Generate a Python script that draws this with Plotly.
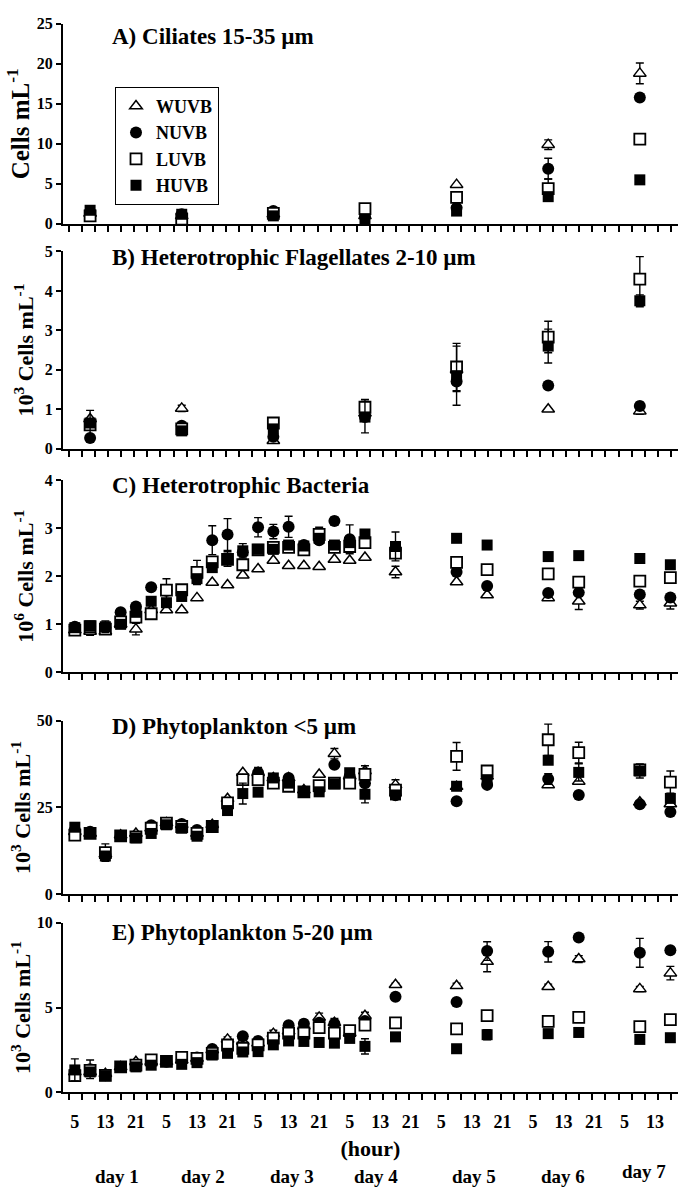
import plotly.graph_objects as go

W, H = 681, 1192
FONT = "Liberation Serif"

# ---------------- data ----------------
# sampling times, hours since 00:00 of day 1
t_daily = [9, 33, 57, 81, 105, 129, 153]
t_full = [5, 9, 13, 17, 21, 25, 29, 33, 37, 41, 45, 49, 53, 57, 61, 65, 69, 73, 77, 81,
          89, 105, 113, 129, 137, 153, 161]

hour_ticks = [5, 13, 21, 29, 37, 45, 53, 61, 69, 77, 85, 93, 101, 109, 117, 125, 133, 141, 149, 157]
hour_labels = ["5", "13", "21"] * 6 + ["5", "13"]
day_labels = ["day 1", "day 2", "day 3", "day 4", "day 5", "day 6", "day 7"]
day_centers = [16, 38.5, 62, 84, 109.5, 133, 154]

series = ["WUVB", "NUVB", "LUVB", "HUVB"]

# A) Ciliates (cells/mL)
A_W = [1.3, 1.0, 1.2, 1.0, 4.9, 9.9, 18.8]
A_N = [1.5, 1.2, 1.6, 0.9, 2.0, 6.9, 15.8]
A_L = [1.0, 0.6, 1.3, 1.9, 3.3, 4.4, 10.6]
A_H = [1.7, 1.2, 1.0, 0.6, 1.6, 3.4, 5.5]
A_W_err = [0, 0, 0, 0, 0, 0.6, 1.3]
A_N_err = [0, 0, 0, 0, 0, 1.3, 0]
A_L_err = [0, 0, 0, 0, 0, 1.2, 0]
A_H_err = [0, 0, 0, 0, 0, 0, 0]

# B) Heterotrophic flagellates (10^3 cells/mL)
B_W = [0.75, 1.02, 0.2, 0.9, 2.0, 1.0, 0.95]
B_N = [0.27, 0.58, 0.3, 0.8, 1.7, 1.6, 1.08]
B_L = [0.6, 0.5, 0.65, 1.05, 2.07, 2.83, 4.3]
B_H = [0.65, 0.45, 0.5, 0.8, 1.85, 2.6, 3.75]
B_W_err = [0, 0.08, 0, 0, 0, 0, 0.08]
B_N_err = [0, 0, 0, 0, 0.25, 0, 0.1]
B_L_err = [0, 0, 0.05, 0.2, 0.6, 0.4, 0.57]
B_H_err = [0.32, 0, 0, 0.4, 0.75, 0.43, 0.15]

# C) Heterotrophic bacteria (10^6 cells/mL)
C_W = [0.88, 0.85, 0.85, 1.0, 0.9, 1.3, 1.3, 1.3, 1.55, 1.87, 1.82, 2.02, 2.15, 2.33, 2.22,
       2.22, 2.2, 2.35, 2.33, 2.39, 2.09, 1.88, 1.61, 1.55, 1.48, 1.4, 1.44]
C_N = [0.95, 0.95, 0.93, 1.25, 1.37, 1.77, 1.7, 1.65, 2.0, 2.75, 2.87, 2.5, 3.02, 2.93, 3.03,
       2.65, 2.75, 3.15, 2.77, 2.75, 2.55, 2.09, 1.8, 1.65, 1.66, 1.62, 1.56]
C_L = [0.88, 0.95, 0.9, 1.05, 1.15, 1.22, 1.71, 1.72, 2.08, 2.3, 2.35, 2.24, 2.55, 2.6, 2.6,
       2.55, 2.87, 2.6, 2.62, 2.7, 2.48, 2.29, 2.14, 2.05, 1.88, 1.9, 1.97]
C_H = [0.93, 0.97, 0.95, 1.0, 1.25, 1.48, 1.45, 1.58, 1.95, 2.18, 2.36, 2.53, 2.56, 2.56, 2.65,
       2.63, 2.79, 2.65, 2.7, 2.88, 2.62, 2.79, 2.65, 2.41, 2.43, 2.37, 2.24]
C_W_err = [0, 0.08, 0, 0, 0.12, 0, 0, 0, 0, 0, 0, 0, 0, 0, 0,
           0, 0, 0, 0, 0, 0.12, 0, 0, 0, 0.17, 0.08, 0.12]
C_N_err = [0, 0, 0, 0, 0, 0, 0.25, 0, 0, 0.3, 0.33, 0, 0.2, 0.15, 0.22,
           0, 0, 0.08, 0.3, 0, 0, 0, 0, 0, 0, 0, 0]
C_L_err = [0, 0, 0, 0, 0, 0, 0, 0, 0.25, 0, 0, 0, 0, 0, 0,
           0, 0.15, 0, 0, 0, 0, 0, 0, 0, 0, 0, 0]
C_H_err = [0, 0, 0.12, 0, 0, 0, 0, 0, 0, 0, 0.15, 0.15, 0, 0, 0,
           0, 0, 0, 0, 0, 0.3, 0, 0, 0, 0, 0, 0]

# D) Phytoplankton <5 um (10^3 cells/mL)
D_W = [18, 17.5, 11.5, 17, 17.5, 19, 20.5, 20, 17.5, 20, 27.5, 35, 35, 33.5, 33.5,
       30, 34.5, 40.5, 34, 35.5, 31.5, 31, 34, 31.5, 32.5, 26.5, 26]
D_N = [18.5, 18, 11.5, 16.8, 16.5, 19.9, 20.2, 20.2, 18.5, 19.7, 26, 33, 35, 33, 33.5,
       29.5, 30, 37.3, 34, 32, 28.5, 26.8, 31.5, 33.2, 28.6, 25.9, 23.7]
D_L = [17, 17.5, 12, 16.8, 16.5, 19, 20.5, 19.5, 17.5, 19.5, 26.3, 33, 33, 32, 31.1,
       29.5, 31.3, 32, 32, 34.5, 30, 39.7, 35.5, 44.5, 40.8, 35.8, 32.3]
D_H = [19.3, 17.5, 11, 16.7, 16.2, 17.5, 20, 19, 16.7, 19.5, 24.1, 29, 29.4, 33.5, 32,
       29.4, 29.5, 31.8, 35, 28.8, 28.6, 31.1, 33, 38.6, 35.1, 35.5, 27.6]
D_W_err = [0, 0, 0, 0, 0, 0, 0, 0, 0, 0, 0, 0, 0, 0, 0,
           0, 0, 1.5, 0, 0, 1.5, 0, 0, 0, 0, 0, 0]
D_N_err = [0, 0, 0, 0, 0, 0, 0, 0, 0, 0, 0, 0, 1.5, 0, 0,
           0, 0, 0, 0, 0, 0, 0, 0, 1.5, 0, 0, 0]
D_L_err = [0, 0, 2.5, 0, 0, 0, 0, 0, 0, 0, 0, 0, 0, 0, 0,
           0, 0, 0, 0, 2.5, 0, 4.0, 0, 4.5, 3.0, 0, 3.2]
D_H_err = [0, 0, 0, 0, 0, 0, 0, 0, 0, 0, 0, 3.0, 0, 0, 0,
           0, 0, 0, 0, 2.5, 0, 0, 0, 0, 2.5, 2.0, 0]

# E) Phytoplankton 5-20 um (10^3 cells/mL)
E_W = [1.2, 1.2, 1.1, 1.5, 1.8, 1.8, 1.8, 1.9, 2.0, 2.5, 3.12, 3.0, 2.9, 3.46, 3.6,
       3.9, 4.42, 4.1, 3.5, 4.52, 6.34, 6.28, 7.71, 6.23, 7.86, 6.1, 7.03]
E_N = [1.2, 1.36, 1.0, 1.5, 1.6, 1.7, 1.8, 1.9, 2.05, 2.56, 2.7, 3.31, 3.03, 3.2, 3.96,
       4.05, 4.1, 4.05, 3.5, 4.2, 5.63, 5.32, 8.33, 8.29, 9.13, 8.23, 8.38]
E_L = [0.98, 1.3, 1.0, 1.5, 1.6, 1.91, 1.82, 2.06, 2.0, 2.3, 2.79, 2.6, 2.8, 3.2, 3.49,
       3.5, 3.81, 3.49, 3.64, 3.96, 4.09, 3.74, 4.52, 4.18, 4.42, 3.87, 4.29]
E_H = [1.32, 1.2, 0.98, 1.49, 1.5, 1.6, 1.82, 1.65, 1.75, 2.2, 2.3, 2.38, 2.4, 2.8, 3.03,
       3.0, 2.94, 2.9, 3.18, 2.71, 3.27, 2.57, 3.4, 3.46, 3.53, 3.12, 3.22]
E_W_err = [0, 0, 0, 0, 0, 0, 0, 0, 0, 0, 0.15, 0, 0, 0.2, 0,
           0, 0.25, 0, 0, 0.2, 0.1, 0.15, 0.6, 0.15, 0.2, 0.15, 0.4]
E_N_err = [0, 0.55, 0, 0, 0, 0, 0, 0, 0, 0, 0, 0, 0, 0, 0,
           0.2, 0, 0.3, 0, 0, 0, 0, 0.55, 0.6, 0, 0.85, 0]
E_L_err = [0, 0, 0, 0, 0, 0, 0, 0, 0, 0, 0, 0, 0, 0, 0,
           0, 0, 0, 0, 0, 0, 0, 0, 0, 0, 0, 0]
E_H_err = [0.65, 0, 0, 0, 0, 0, 0, 0, 0, 0, 0, 0, 0, 0, 0,
           0, 0, 0, 0, 0.45, 0, 0, 0.3, 0, 0, 0, 0]

panels = [
    dict(title="A) Ciliates 15-35 µm", t=t_daily, vals=[A_W, A_N, A_L, A_H],
         errs=[A_W_err, A_N_err, A_L_err, A_H_err], yrange=[0, 25], dtick=5,
         ytitle="Cells mL<sup>-1</sup>", top=16, bot=219, ttl=29, standoff=0, tsize=25),
    dict(title="B) Heterotrophic Flagellates 2-10 µm", t=t_daily, vals=[B_W, B_N, B_L, B_H],
         errs=[B_W_err, B_N_err, B_L_err, B_H_err], yrange=[0, 5], dtick=1,
         ytitle="10<sup>3</sup> Cells mL<sup>-1</sup>", top=247, bot=447, ttl=253, standoff=5, tsize=22),
    dict(title="C) Heterotrophic Bacteria", t=t_full, vals=[C_W, C_N, C_L, C_H],
         errs=[C_W_err, C_N_err, C_L_err, C_H_err], yrange=[0, 4], dtick=1,
         ytitle="10<sup>6</sup> Cells mL<sup>-1</sup>", top=479, bot=674, ttl=484, standoff=5, tsize=22),
    dict(title="D) Phytoplankton <5 µm", t=t_full, vals=[D_W, D_N, D_L, D_H],
         errs=[D_W_err, D_N_err, D_L_err, D_H_err], yrange=[0, 50], dtick=25,
         ytitle="10<sup>3</sup> Cells mL<sup>-1</sup>", top=723, bot=899, ttl=729, standoff=0, tsize=22),
    dict(title="E) Phytoplankton 5-20 µm", t=t_full, vals=[E_W, E_N, E_L, E_H],
         errs=[E_W_err, E_N_err, E_L_err, E_H_err], yrange=[0, 10], dtick=5,
         ytitle="10<sup>3</sup> Cells mL<sup>-1</sup>", top=928, bot=1100, ttl=938, standoff=0, tsize=22),
]

styles = {
    "WUVB": dict(symbol="triangle-up", color="white", size=11, line=dict(color="black", width=1.5)),
    "NUVB": dict(symbol="circle", color="black", size=12, line=dict(color="black", width=0)),
    "LUVB": dict(symbol="square", color="white", size=11, line=dict(color="black", width=1.8)),
    "HUVB": dict(symbol="square", color="black", size=11, line=dict(color="black", width=0)),
}

XRANGE = [1.9, 163]
XDOM = [63 / W, 678 / W]


def py(px):
    return 1 - px / H


fig = go.Figure()
layout = dict(
    width=W, height=H, margin=dict(l=0, r=0, t=0, b=0),
    paper_bgcolor="white", plot_bgcolor="white",
    font=dict(family=FONT, color="black", weight="bold"),
    showlegend=True,
    legend=dict(x=115 / W, y=py(80), xanchor="left", yanchor="top",
                bordercolor="black", borderwidth=1, bgcolor="white",
                font=dict(family=FONT, size=18, color="black", weight="bold"),
                tracegroupgap=0, itemwidth=30),
)
annotations = []

for i, p in enumerate(panels, start=1):
    xa = "x" if i == 1 else f"x{i}"
    ya = "y" if i == 1 else f"y{i}"
    for s, v, e in zip(series, p["vals"], p["errs"]):
        st = styles[s]
        fig.add_trace(go.Scatter(
            x=p["t"], y=v, mode="markers", name=s, xaxis=xa, yaxis=ya,
            showlegend=(i == 1),
            marker=dict(symbol=st["symbol"], color=st["color"], size=st["size"], line=st["line"]),
            error_y=dict(type="data", array=e, visible=True, color="black", thickness=1.4, width=4),
            cliponaxis=False,
        ))
    xkey = "xaxis" if i == 1 else f"xaxis{i}"
    ykey = "yaxis" if i == 1 else f"yaxis{i}"
    xa_cfg = dict(domain=XDOM, range=XRANGE, anchor=ya, showline=True, linecolor="black",
                  linewidth=2.2, showgrid=False, zeroline=False,
                  minor=dict(tickmode="linear", tick0=0, dtick=24 / 7, ticks="outside",
                             ticklen=6, tickwidth=1.6, tickcolor="black", showgrid=False))
    if i == 5:
        xa_cfg.update(tickmode="array", tickvals=hour_ticks, ticktext=hour_labels,
                      ticks="outside", ticklen=0, ticklabelstandoff=12,
                      tickfont=dict(family=FONT, size=18, color="black", weight="bold"),
                      title=dict(text="(hour)", standoff=10,
                                 font=dict(family=FONT, size=22, color="black", weight="bold")))
    else:
        xa_cfg.update(tickmode="linear", tick0=0, dtick=24 / 7, ticks="outside",
                      ticklen=6, tickwidth=1.6, tickcolor="black", showticklabels=False)
        xa_cfg.pop("minor")
    layout[xkey] = xa_cfg
    layout[ykey] = dict(domain=[py(p["bot"]), py(p["top"])], range=p["yrange"], anchor=xa,
                        dtick=p["dtick"], tick0=0, showline=True, linecolor="black", linewidth=2.2,
                        ticks="outside", ticklen=5, tickwidth=1.6, tickcolor="black",
                        showgrid=False, zeroline=False,
                        tickfont=dict(family=FONT, size=16, color="black", weight="bold"),
                        title=dict(text=p["ytitle"], standoff=p["standoff"],
                                   font=dict(family=FONT, size=p["tsize"], color="black", weight="bold")))
    annotations.append(dict(text=p["title"], xref="paper", yref="paper", x=110 / W, y=py(p["ttl"]),
                            xanchor="left", yanchor="middle", showarrow=False,
                            font=dict(family=FONT, size=23, color="black", weight="bold")))

for k, (lab, xc) in enumerate(zip(day_labels, day_centers)):
    annotations.append(dict(text=lab, xref="x5", yref="paper", x=xc,
                            y=py(1180 if k == 6 else 1185), xanchor="center", yanchor="middle",
                            showarrow=False,
                            font=dict(family=FONT, size=19, color="black", weight="bold")))

layout["annotations"] = annotations
fig.update_layout(**layout)
fig.write_html("out.html")
